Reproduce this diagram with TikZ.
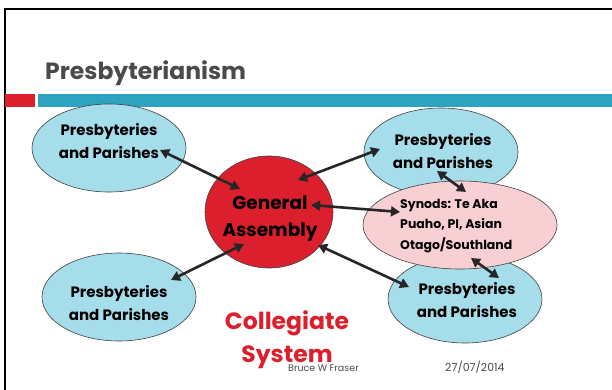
\documentclass[tikz,border=0pt]{standalone}
\usepackage{fontspec}
\setmainfont{Poppins}
\usetikzlibrary{arrows.meta}
\definecolor{barred}{HTML}{DC1F2C}
\definecolor{barblue}{HTML}{2EA3C0}
\definecolor{lightblue}{HTML}{A6DDEA}
\definecolor{pinkfill}{HTML}{F8D0D3}
\definecolor{arrowgray}{HTML}{262626}
\definecolor{titlegray}{HTML}{4A4A4A}
\tikzset{
  blob/.style={draw=black!75, line width=0.6pt, fill=lightblue},
  lbl/.style={font=\bfseries\fontsize{15}{23}\selectfont, align=center, text=black},
  link/.style={draw=arrowgray, line width=2.6pt, {Triangle[length=9pt,width=10pt]}-{Triangle[length=9pt,width=10pt]}},
}
\begin{document}
\begin{tikzpicture}[x=1pt,y=-1pt]
\useasboundingbox (0,0) rectangle (612,390);
\fill[white] (0,0) rectangle (612,390);
% slide frame
\draw[line width=2pt, black] (5,390) -- (5,9) -- (612,9);
% title
\node[anchor=base west, inner sep=0pt, text=titlegray, font=\bfseries\fontsize{23.5}{28}\selectfont] (title) at (45,80) {Presbyterianism};
% bars
\fill[barred] (5,94) rectangle (35,107);
\fill[barblue] (38,94) rectangle (612,107);
% ellipses
\fill[blob] (109,148) ellipse [x radius=77, y radius=44];
\node[lbl] (tl) at (109,141) {Presbyteries\\and Parishes};
\fill[blob] (441,152) ellipse [x radius=77, y radius=44];
\node[lbl] (tr) at (443,151) {Presbyteries\\and Parishes};
\fill[blob] (119,297) ellipse [x radius=77, y radius=44];
\node[lbl] (bl) at (119,303) {Presbyteries\\and Parishes};
\fill[blob] (465,299) ellipse [x radius=77, y radius=44];
\node[lbl] (br) at (467,300) {Presbyteries\\and Parishes};
\fill[blob, fill=pinkfill] (460,225) ellipse [x radius=97, y radius=44];
\node[font=\bfseries\fontsize{12.5}{20.5}\selectfont, align=left, anchor=west, inner sep=0pt, text=black] (syn) at (400,226) {Synods: Te Aka\\Puaho, PI, Asian\\Otago/Southland};
\fill[blob, fill=barred] (269,212) ellipse [x radius=64, y radius=56];
\node[font=\bfseries\fontsize{18.5}{27}\selectfont, align=center, text=black] (ga) at (270,219) {General\\Assembly};
% arrow endpoints
\coordinate (a1) at (160,150);
\coordinate (a2) at (240,189);
\coordinate (b1) at (298,180);
\coordinate (b2) at (380,149);
\coordinate (c1) at (311,205);
\coordinate (c2) at (400,212);
\coordinate (d1) at (437,171);
\coordinate (d2) at (466,192);
\coordinate (e1) at (471,258);
\coordinate (e2) at (499,278);
\coordinate (f1) at (244,244);
\coordinate (f2) at (171,280);
\coordinate (g1) at (318,245);
\coordinate (g2) at (409,287);
\draw[link] (a1) -- (a2);
\draw[link] (b1) -- (b2);
\draw[link] (c1) -- (c2);
\draw[link] (d1) -- (d2);
\draw[link] (e1) -- (e2);
\draw[link] (f1) -- (f2);
\draw[link] (g1) -- (g2);
% collegiate system
\node[font=\bfseries\fontsize{23.5}{33}\selectfont, align=center, text=barred] (cs) at (287,340) {Collegiate\\System};
\node[anchor=base west, inner sep=0pt, text=titlegray, font=\fontsize{9.5}{10}\selectfont] (au) at (288,371) {Bruce W Fraser};
\node[anchor=base west, inner sep=0pt, text=titlegray, font=\fontsize{11}{12}\selectfont] (dt) at (445,371) {27/07/2014};
\end{tikzpicture}
\end{document}
